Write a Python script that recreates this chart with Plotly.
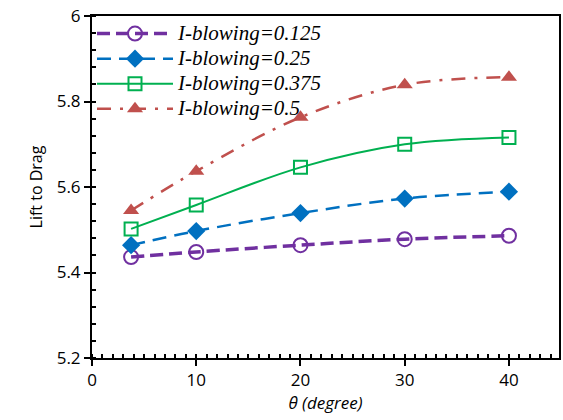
import plotly.graph_objects as go

theta = [3.75, 10, 20, 30, 40]
ib_0125 = [5.436, 5.448, 5.464, 5.478, 5.486]
ib_025 = [5.464, 5.497, 5.539, 5.573, 5.589]
ib_0375 = [5.502, 5.558, 5.646, 5.700, 5.716]
ib_05 = [5.545, 5.637, 5.763, 5.839, 5.857]
names = ["I-blowing=0.125", "I-blowing=0.25", "I-blowing=0.375", "I-blowing=0.5"]

def big(s):
    return '<span style="font-size:21px">' + s + '</span>'

fig = go.Figure()
fig.add_trace(go.Scatter(x=theta, y=ib_0125, name=big(names[0]), mode="lines+markers",
    line=dict(color="#7030A0", width=3.5, dash="13px,6px", shape="spline"),
    marker=dict(symbol="circle-open", size=14, color="#7030A0", line=dict(width=2))))
fig.add_trace(go.Scatter(x=theta, y=ib_025, name=big(names[1]), mode="lines+markers",
    line=dict(color="#0070C0", width=2.5, dash="14px,8px", shape="spline"),
    marker=dict(symbol="diamond", size=14, color="#0070C0")))
fig.add_trace(go.Scatter(x=theta, y=ib_0375, name=big(names[2]), mode="lines+markers",
    line=dict(color="#00B050", width=2, shape="spline"),
    marker=dict(symbol="square-open", size=13, color="#00B050", line=dict(width=2))))
fig.add_trace(go.Scatter(x=theta, y=ib_05, name=big(names[3]), mode="lines+markers",
    line=dict(color="#C0504D", width=2.5, dash="14px,9px,3px,9px", shape="spline"),
    marker=dict(symbol="triangle-up", size=14, color="#C0504D")))

axis_font = dict(family="Open Sans, Liberation Sans, sans-serif", size=17, color="black")
fig.update_layout(
    width=563, height=420,
    margin=dict(l=92, r=2, t=16, b=62),
    paper_bgcolor="white", plot_bgcolor="white",
    showlegend=True,
    legend=dict(x=0.0, y=1.0, xanchor="left", yanchor="top",
                font=dict(family="Liberation Serif, Times New Roman, serif", size=17, color="black", style="italic"),
                bgcolor="rgba(0,0,0,0)", tracegroupgap=0, itemwidth=76),
    xaxis=dict(range=[0, 44.8], tickvals=[0, 10, 20, 30, 40], ticks="outside", ticklen=6, tickwidth=2,
               tickcolor="black", showline=True, linecolor="black", linewidth=2, mirror=True,
               showgrid=False, zeroline=False, tickfont=axis_font,
               minor=dict(dtick=1, ticks="inside", ticklen=4, tickwidth=1.5, tickcolor="black", showgrid=False),
               title=dict(text="<i>θ (degree)</i>", font=dict(family="Open Sans, Liberation Sans, sans-serif", size=17, color="black"), standoff=0)),
    yaxis=dict(range=[5.2, 6.0], tickvals=[5.2, 5.4, 5.6, 5.8, 6.0], ticktext=["5.2", "5.4", "5.6", "5.8", "6"],
               ticks="outside", ticklen=6, tickwidth=2,
               tickcolor="black", showline=True, linecolor="black", linewidth=2, mirror=True,
               showgrid=False, zeroline=False, tickfont=axis_font,
               minor=dict(dtick=0.04, ticks="inside", ticklen=4, tickwidth=1.5, tickcolor="black", showgrid=False),
               title=dict(text="Lift to Drag", font=dict(family="Open Sans, Liberation Sans, sans-serif", size=16, color="black"), standoff=10)),
)
fig.write_html("out.html")
